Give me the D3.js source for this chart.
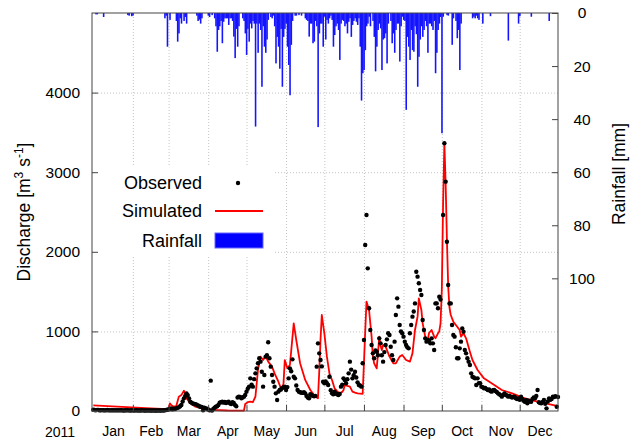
<!DOCTYPE html>
<html>
<head>
<meta charset="utf-8">
<script src="https://cdn.jsdelivr.net/npm/d3@7"></script>
<style>
body{margin:0;background:#fff;}
svg text{font-family:"Liberation Sans",Arial,Helvetica,sans-serif;fill:#000;}
</style>
</head>
<body>
<div id="chart"></div>
<script>
// daily rainfall [day of year (0 = Jan 1), mm]
var rainfall = [[2,0.5],[3,0.5],[8,1.5],[27,0.8],[28,1],[30,1.2],[31,1],
  [56,2],[57,1],[58,12.7],[60,2.6],
  [65,3],[66,10.8],[67,7.7],[68,2],[69,4],[71,3],[72,1.5],[73,4],
  [81,1],[82,3],[83,2.5],[84,4],[85,2],[90,1],[91,1.5],[93,0.8],
  [95,2],[96,5],[97,14.6],[98,6.4],[99,5],[100,3],[101,11.4],[102,3.3],[103,2],[104,2],[105,2],[106,4.5],[107,2],[108,2],[109,3],[110,8.9],[111,17],[112,6],[113,12.7],[114,5],
  [117,2],[118,3],[119,7.7],[120,15.8],[121,6],[122,10.8],[123,4],[124,5.8],[125,3],[126,4],[127,42.8],[128,4],[129,15],[130,4],[131,6.4],[132,27.8],[133,5],[134,12.7],[135,15],[136,10],[137,2.6],
  [139,1.5],[140,2],[141,1],[142,5],[143,19],[144,9],[145,12.7],[146,21],[147,6],[148,27.8],[149,9],[150,6],[151,4],[152,12.7],[153,19.6],[154,31],[155,12],[156,3],
  [158,1],[159,1],[161,0.8],[163,1],
  [166,2],[167,2.6],[168,3],[169,8.9],[170,4],[171,4],[172,11.4],[173,10.8],[174,3],[175,5],[176,43],[177,7.7],[178,4],[179,4],[180,12.7],[181,1.4],
  [182,10],[183,2.6],[184,4],[185,2],[186,1],[187,2.6],[188,12.7],[189,8.3],[190,5],[191,4],[192,6.4],[193,17.7],[194,4],[195,2.6],[196,3],[197,5],[198,4],[199,7.7],[200,3.3],[201,2],[202,9],[203,4.5],[204,3],[205,2],[206,3.3],[207,4.5],[208,2],[209,12.7],[210,33],[211,22.7],[212,21.5],[213,14],[214,5],[215,4],[216,1.4],[217,5],
  [219,3],[220,9],[221,22],[222,12.7],[223,6.4],[224,4],[225,5.8],[226,21.5],[227,10],[228,9.5],[229,7.7],[230,19],[231,4],
  [233,3],[234,11.4],[235,7.7],[236,15],[237,6.4],[238,4],[239,4],[240,18.3],[241,5],[242,1.4],[243,2.6],[244,3],[245,36.5],[246,9],[247,12.7],[248,17.7],[249,6.4],[250,14],[251,14.6],[252,5],[253,8],[254,27.8],[255,16.5],[256,10],[257,5],[258,9],[259,6.4],[260,3],[261,5],[262,15],[263,4],[264,4],[265,5],[266,6.4],[267,3],[268,22.7],[269,15],[270,6.4],[271,4],[272,1.5],[273,45.3],[274,1.4],
  [277,0.8],[278,1],[281,12],[282,2],[284,3],[285,9.5],[286,6.4],[287,21.5],[288,4],
  [297,2],[298,1.4],[299,2],[300,1],[301,2],[302,2.6],[305,4],[311,1.2],[325,10.4],[333,4],[334,1.2],[343,1.4],[357,3]];

// observed discharge, one value per day from Jan 1 (m3/s)
var observed = [
  15,12,10,14,12,10,9,11,10,8, 10,12,9,8,10,9,8,10,8,9,
  8,10,9,8,7,9,8,10,8,7, 9,8,7,8,9,7,8,7,9,8,
  7,6,8,7,8,6,7,8,6,7, 6,8,7,6,8,7,10,12,15,20,
  25,33,20,30,25,35,40,46,60,75, 120,159,190,222,200,159,117,105,95,90,
  84,80,70,60,54,50,8,40,33,30, 20,10,381,5,25,40,54,60,75,105,
  110,117,105,113,100,110,117,96,88,110, 100,75,60,170,180,175,159,170,180,201,
  243,280,306,410,330,306,400,473,536,600, 662,620,494,306,452,683,700,863,662,557,
  452,368,306,222,138,243,264,270,290,300, 306,264,300,410,536,500,649,431,410,320,
  264,243,235,230,228,235,222,190,170,159, 210,201,190,185,190,557,850,724,640,560,
  368,348,370,348,327,431,260,222,210,243, 220,210,201,215,306,330,410,390,348,400,
  473,620,520,410,450,494,420,360,327,320, 306,600,892,2085,2462,1792,1290,1018,829,724,
  662,760,745,700,913,850,700,620,740,829, 900,976,955,808,700,641,871,1206,1415,1311,
  1080,1000,976,934,871,829,800,787,976,1080, 1185,1250,1352,1750,1688,1604,1520,1457,1143,1018,
  913,871,892,880,850,913,850,766,1352,1352, 1290,1436,1400,null,2462,3363,2881,2127,1583,1352,
  1352,1080,955,934,800,662,662,787,871,1038, 997,766,724,662,620,578,473,431,420,410,
  327,410,350,348,306,300,285,290,275,264, 270,250,243,260,264,250,240,222,210,200,
  180,200,222,205,195,180,190,180,170,175, 180,160,150,159,140,180,150,130,117,140,
  96,130,120,117,150,170,159,190,264,110, 100,96,115,138,90,33,120,159,140,150,
  180,175,185,54,175];

// simulated discharge [day, m3/s]
var simulated = [[0,70],[15,58],[30,45],[45,32],[58,22],[59,35],[60,96],[61,75],[63,54],[65,62],[67,180],[69,200],[71,255],[72,220],[73,160],[76,96],[80,54],[85,34],[93,13],[105,6],[118,5],[119,88],[121,110],[123,117],[125,110],[127,180],[129,515],[131,683],[133,640],[135,690],[137,620],[140,557],[142,473],[145,368],[147,285],[148,290],[149,347],[150,640],[152,536],[154,578],[155,750],[157,1101],[159,892],[162,600],[166,390],[170,264],[174,180],[176,160],[177,500],[178,900],[179,1206],[181,975],[183,683],[185,470],[187,389],[189,285],[191,250],[193,222],[195,240],[196,264],[197,327],[199,315],[201,306],[203,243],[205,230],[207,222],[211,215],[212,599],[213,1000],[214,1374],[216,1269],[218,934],[219,683],[220,599],[222,536],[223,724],[224,934],[225,820],[226,766],[227,829],[229,808],[232,683],[235,599],[237,599],[240,683],[242,703],[245,641],[248,620],[250,724],[252,1018],[254,1185],[255,1415],[257,1269],[258,1101],[260,934],[262,892],[263,980],[265,1018],[267,934],[268,913],[270,976],[271,1000],[272,1101],[273,1520],[274,2609],[275,3363],[276,2850],[277,2150],[278,1562],[279,1300],[280,1206],[282,1122],[284,1080],[287,1018],[288,934],[290,976],[292,913],[295,745],[297,641],[301,515],[306,410],[312,348],[320,264],[328,222],[338,159],[348,117],[356,88],[363,63]];

var dischargeTicks = [0, 1000, 2000, 3000, 4000];
var rainTicks = [0, 20, 40, 60, 80, 100];
var yearLabel = "2011";

function dayDate(d){ return new Date(2011, 0, 1 + d); }

var svgWidth = 634, svgHeight = 443;
var margin = {top: 13, right: 76, bottom: 32, left: 92};
var width = svgWidth - margin.left - margin.right;
var height = svgHeight - margin.top - margin.bottom;

var svg = d3.select("#chart").append("svg")
  .attr("width", svgWidth).attr("height", svgHeight);
var g = svg.append("g").attr("transform", `translate(${margin.left},${margin.top})`);

var x = d3.scaleTime().domain([new Date(2010, 11, 31), new Date(2011, 11, 31)]).range([0, width]);
var y = d3.scaleLinear().domain([0, 5000]).range([height, 0]);
var yRain = d3.scaleLinear().domain([0, 150]).range([0, height]);

var monthStarts = d3.timeMonth.range(new Date(2011, 1, 1), new Date(2011, 11, 2));
var monthMids = d3.timeMonth.range(new Date(2011, 0, 1), new Date(2012, 0, 1)).map(function(m){
  var next = d3.timeMonth.offset(m, 1);
  return new Date((m.getTime() + next.getTime()) / 2);
});

// grid
g.append("g").attr("class", "grid")
  .attr("transform", `translate(0,${height})`)
  .call(d3.axisBottom(x).tickValues(monthStarts).tickSize(-height).tickFormat(""));
g.append("g").attr("class", "grid")
  .call(d3.axisLeft(y).tickValues(dischargeTicks.slice(1)).tickSize(-width).tickFormat(""));
g.selectAll(".grid .domain").remove();
g.selectAll(".grid line").attr("stroke", "#c4c4c4").attr("stroke-dasharray", "1,2");

// legend background hides the grid
g.append("rect").attr("x", 1).attr("y", 152).attr("width", 180).attr("height", 91).attr("fill", "#fff");

// rainfall bars hanging from the top
var barW = x(dayDate(1)) - x(dayDate(0));
g.selectAll(".rain").data(rainfall).enter().append("rect")
  .attr("class", "rain")
  .attr("x", d => x(dayDate(d[0])) - barW / 2)
  .attr("y", 0)
  .attr("width", barW + 0.3)
  .attr("height", d => yRain(d[1]))
  .attr("fill", "#1414ff");

// simulated line
var line = d3.line().x(d => x(dayDate(d[0]))).y(d => y(d[1]));
g.append("path").datum(simulated)
  .attr("d", line).attr("fill", "none")
  .attr("stroke", "#ff0000").attr("stroke-width", 1.8).attr("stroke-linejoin", "round");

// observed points
g.selectAll(".obs").data(observed.map((v, i) => [i, v]).filter(d => d[1] != null))
  .enter().append("circle")
  .attr("class", "obs")
  .attr("cx", d => x(dayDate(d[0])))
  .attr("cy", d => y(d[1]))
  .attr("r", 2.2)
  .attr("fill", "#000");

// axes
var left = g.append("g")
  .call(d3.axisLeft(y).tickValues(dischargeTicks).tickSize(-6).tickPadding(12).tickFormat(d3.format("d")));
var bottomTicks = g.append("g").attr("transform", `translate(0,${height})`)
  .call(d3.axisBottom(x).tickValues(monthStarts).tickSize(-6).tickFormat(""));
var bottomLabels = g.append("g").attr("transform", `translate(0,${height})`)
  .call(d3.axisBottom(x).tickValues(monthMids).tickSize(0).tickPadding(15).tickFormat(d3.timeFormat("%b")));
var right = g.append("g").attr("transform", `translate(${width},0)`)
  .call(d3.axisRight(yRain).tickValues(rainTicks).tickSize(-6).tickPadding(24).tickFormat(d3.format("d")));

[left, bottomTicks, bottomLabels, right].forEach(function(a){
  a.select(".domain").remove();
  a.selectAll("line").attr("stroke", "#444");
});
left.selectAll("text").attr("font-size", "15.5px");
right.selectAll("text").attr("font-size", "15.5px").attr("text-anchor", "middle");
bottomLabels.selectAll("text").attr("font-size", "14px");

// frame
g.append("rect").attr("width", width).attr("height", height)
  .attr("fill", "none").attr("stroke", "#444").attr("stroke-width", 1);

svg.append("text").attr("x", 60).attr("y", 437).attr("text-anchor", "middle")
  .attr("font-size", "14px").text(yearLabel);

// axis titles
var yt = svg.append("text").attr("transform", "translate(30,212) rotate(-90)")
  .attr("text-anchor", "middle").attr("font-size", "17.5px");
yt.append("tspan").text("Discharge [m");
yt.append("tspan").attr("font-size", "12px").attr("dy", -7).text("3");
yt.append("tspan").attr("dy", 7).text(" s");
yt.append("tspan").attr("font-size", "12px").attr("dy", -7).text("-1");
yt.append("tspan").attr("dy", 7).text("]");

svg.append("text").attr("transform", "translate(625,174) rotate(-90)")
  .attr("text-anchor", "middle").attr("font-size", "17.5px").text("Rainfall [mm]");

// legend
var legend = svg.append("g").attr("font-size", "18px");
legend.append("text").attr("x", 202).attr("y", 183).attr("dy", "0.35em").attr("text-anchor", "end").text("Observed");
legend.append("circle").attr("cx", 238).attr("cy", 183).attr("r", 2.2).attr("fill", "#000");
legend.append("text").attr("x", 202).attr("y", 211).attr("dy", "0.35em").attr("text-anchor", "end").text("Simulated");
legend.append("line").attr("x1", 215).attr("x2", 263).attr("y1", 211).attr("y2", 211)
  .attr("stroke", "#ff0000").attr("stroke-width", 1.8);
legend.append("text").attr("x", 202).attr("y", 241).attr("dy", "0.35em").attr("text-anchor", "end").text("Rainfall");
legend.append("rect").attr("x", 215).attr("y", 233).attr("width", 48).attr("height", 15)
  .attr("fill", "#0000ff").attr("stroke", "#6666ff").attr("stroke-width", 1);
</script>
</body>
</html>
